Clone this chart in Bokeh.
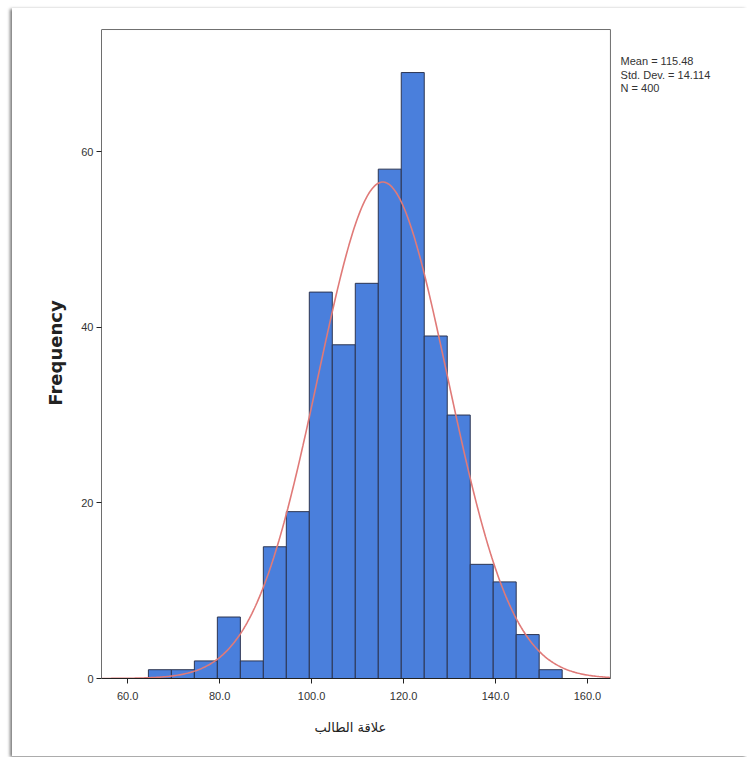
import numpy as np
from bokeh.plotting import figure
from bokeh.models import Range1d, FixedTicker, Label, CustomJSTickFormatter, ColumnDataSource, Title
from bokeh.embed import file_html
from bokeh.resources import INLINE

# ---- data ----
bin_edges = [64.5, 69.5, 74.5, 79.5, 84.5, 89.5, 94.5, 99.5, 104.5, 109.5,
             114.5, 119.5, 124.5, 129.5, 134.5, 139.5, 144.5, 149.5, 154.5]
counts = [1, 1, 2, 7, 2, 15, 19, 44, 38, 45, 58, 69, 39, 30, 13, 11, 5, 1]
mean_val = 115.48
std_val = 14.114
n_val = 400
x_ticks = [60, 80, 100, 120, 140, 160]
y_ticks = [0, 20, 40, 60]
stats_lines = ["Mean = 115.48", "Std. Dev. = 14.114", "N = 400"]
x_title = "علاقة الطالب"
y_title = "Frequency"

bin_width = bin_edges[1] - bin_edges[0]

# visible chart box (axis units) and the wider drawing area that also holds the stats text
box_x = (54.3, 165.0)
box_top = 73.9

p = figure(width=735, height=748, output_backend="svg", toolbar_location=None,
           x_range=Range1d(box_x[0], 192.2), y_range=Range1d(0, 74.13),
           min_border_left=89, min_border_right=12, min_border_top=19,
           min_border_bottom=78)
p.background_fill_color = "white"
p.border_fill_color = "white"
p.outline_line_color = None
p.xgrid.visible = False
p.ygrid.visible = False
p.styles = {"margin-left": "12px", "margin-top": "8px",
            "box-shadow": "-2px 1px 3px #7a7a7a"}

src = ColumnDataSource(dict(left=bin_edges[:-1], right=bin_edges[1:], top=counts))
p.quad(left="left", right="right", bottom=0, top="top", source=src,
       fill_color="#4a7fdc", line_color="#2c3552", line_width=1)

xs = np.linspace(box_x[0], box_x[1], 400)
ys = n_val * bin_width * np.exp(-0.5 * ((xs - mean_val) / std_val) ** 2) / (std_val * np.sqrt(2 * np.pi))
p.line(xs, ys, line_color="#e07a78", line_width=1.6)

# top and right edges of the chart box
p.segment(x0=[box_x[0], box_x[1]], y0=[box_top, 0], x1=[box_x[1], box_x[1]], y1=[box_top, box_top],
          line_color="#6e6e6e", line_width=1)

# axes
for ax in (p.xaxis[0], p.yaxis[0]):
    ax.axis_line_color = "#222222"
    ax.major_tick_line_color = "#222222"
    ax.major_tick_in = 0
    ax.major_tick_out = 5
    ax.minor_tick_line_color = None
    ax.major_label_text_font = "Liberation Sans"
    ax.major_label_text_font_size = "11px"
    ax.major_label_text_color = "#333333"

p.xaxis.bounds = box_x
p.xaxis.ticker = FixedTicker(ticks=x_ticks)
p.xaxis.formatter = CustomJSTickFormatter(code="return tick.toFixed(1);")
p.xaxis.major_label_standoff = 8

# x title centred under the chart box (not the whole drawing area)
p.add_layout(Title(text=x_title, align="left", offset=213, vertical_align="top",
                   text_font="DejaVu Sans", text_font_style="normal", text_font_size="13px",
                   text_color="#222222", standoff=34), "below")

p.yaxis.bounds = (0, box_top)
p.yaxis.axis_line_color = "#6e6e6e"
p.yaxis.ticker = FixedTicker(ticks=y_ticks)
p.yaxis.axis_label = y_title
p.yaxis.axis_label_text_font = "DejaVu Sans"
p.yaxis.axis_label_text_font_style = "bold"
p.yaxis.axis_label_text_font_size = "18px"
p.yaxis.axis_label_text_color = "#222222"
p.yaxis.axis_label_standoff = 12
p.yaxis.major_label_standoff = 3

# statistics text to the right of the chart box
for i, line in enumerate(stats_lines):
    p.add_layout(Label(x=167.2, y=70.3 - i * 1.55, text=line,
                       text_font="Liberation Sans", text_font_size="11px",
                       text_color="#333333", text_baseline="middle"))

open("out.html", "w").write(file_html(p, INLINE))
